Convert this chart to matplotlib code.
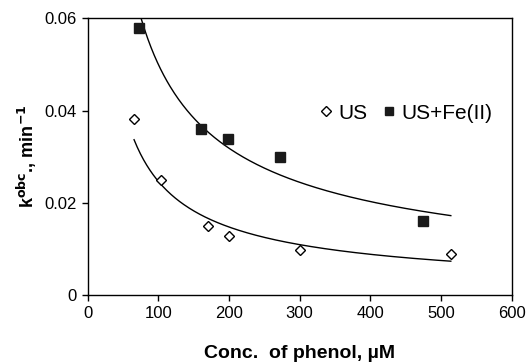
import numpy as np
import matplotlib
matplotlib.use("Agg")
import matplotlib.pyplot as plt

plt.rcParams['font.family'] = ['Liberation Sans', 'DejaVu Sans']

# Data
us_x = [65.5, 104, 170, 199.5, 301, 514]
us_y = [0.0381, 0.0249, 0.0149, 0.0128, 0.0097, 0.0090]
fe_x = [73, 160, 198, 272.6, 474.5]
fe_y = [0.0580, 0.0361, 0.0338, 0.0299, 0.0161]

xticks = [0, 100, 200, 300, 400, 500, 600]
yticks = [0, 0.02, 0.04, 0.06]
yticklabels = ['0', '0.02', '0.04', '0.06']

fig = plt.figure(figsize=(5.29, 3.63), dpi=100)
ax = fig.add_axes([0.166, 0.1873, 0.801, 0.7623])

# Power-law trendlines (fit in log-log space)
xs = np.linspace(min(us_x), max(us_x), 300)
for x, y in [(us_x, us_y), (fe_x, fe_y)]:
    b, a = np.polyfit(np.log(x), np.log(y), 1)
    ax.plot(xs, np.exp(a) * xs ** b, color='black', lw=1.0, zorder=2)

ax.plot(us_x, us_y, linestyle='none', marker='D', markersize=5.5,
        markerfacecolor='white', markeredgecolor='black', markeredgewidth=1.0,
        label='US', zorder=3)
ax.plot(fe_x, fe_y, linestyle='none', marker='s', markersize=7,
        markerfacecolor='#1a1a1a', markeredgecolor='#1a1a1a',
        label='US+Fe(II)', zorder=3)

ax.set_xlim(0, 600)
ax.set_ylim(0, 0.06)
ax.set_xticks(xticks)
ax.set_xticklabels([str(t) for t in xticks])
ax.set_yticks(yticks)
ax.set_yticklabels(yticklabels)
ax.tick_params(direction='out', length=4, width=1, labelsize=12, colors='black', pad=4)
for s in ax.spines.values():
    s.set_linewidth(1.0)

ax.set_xlabel('Conc.  of phenol, µM', fontsize=14, fontweight='bold', labelpad=17)
ax.set_ylabel(r'k$^{\mathbf{obc}}$., min$^{\mathbf{-1}}$', fontsize=13, fontweight='bold', labelpad=4)

leg = ax.legend(loc='center left', bbox_to_anchor=(0.527, 0.657), ncol=2, frameon=False,
                fontsize=15, handlelength=0.6, handletextpad=0.3, columnspacing=0.75,
                borderaxespad=0, markerscale=0.85)

fig.savefig('out.png', dpi=100)
